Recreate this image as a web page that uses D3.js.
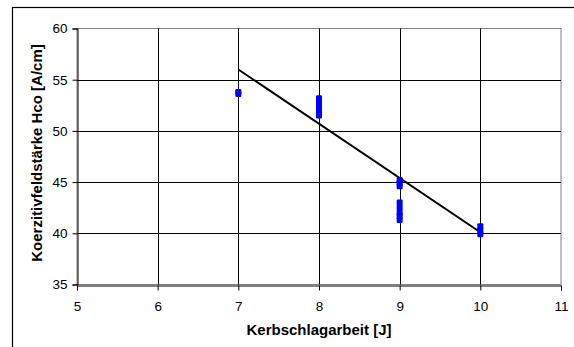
<!DOCTYPE html>
<html>
<head>
<meta charset="utf-8">
<script src="https://cdn.jsdelivr.net/npm/d3@7"></script>
<style>
  html, body { margin: 0; padding: 0; background: #fff; }
  svg { display: block; font-family: "Liberation Sans", Arial, sans-serif; }
</style>
</head>
<body>
<svg id="chart" width="574" height="347"></svg>
<script>
// Measured samples: impact energy [J] vs. coercive field strength [A/cm]
const energy = [7, 7, 8, 8, 8, 8, 8, 8, 8, 9, 9, 9, 9, 9, 9, 9, 9, 10, 10, 10];
const coercivity = [53.8, 53.6, 53.2, 52.9, 52.6, 52.3, 52.0, 51.7, 51.5,
                    45.2, 44.9, 44.6, 43.0, 42.5, 42.0, 41.7, 41.3,
                    40.7, 40.3, 39.9];
// Linear trend line end points
const trendX = [7, 10];
const trendY = [56.0, 40.1];
const xTicks = [5, 6, 7, 8, 9, 10, 11];
const yTicks = [35, 40, 45, 50, 55, 60];

const svg = d3.select("#chart");
const plotLeft = 77, plotRight = 561, plotTop = 28.5, plotBottom = 284.5;

const x = d3.scaleLinear().domain([5, 11]).range([plotLeft, plotRight]);
const y = d3.scaleLinear().domain([35, 60]).range([plotBottom, plotTop]);

// outer chart frame (continues beyond the visible area)
svg.append("rect")
  .attr("x", 12.5).attr("y", 7.5)
  .attr("width", 600).attr("height", 400)
  .attr("fill", "none").attr("stroke", "#000").attr("stroke-width", 1.2);

// plot area border
svg.append("rect")
  .attr("x", plotLeft).attr("y", plotTop)
  .attr("width", plotRight - plotLeft).attr("height", plotBottom - plotTop)
  .attr("fill", "none").attr("stroke", "#808080").attr("stroke-width", 1);

// gridlines
const grid = svg.append("g").attr("stroke", "#000").attr("stroke-width", 1);
grid.selectAll("line.h").data(yTicks.filter(t => t > 35 && t < 60)).join("line")
  .attr("x1", plotLeft).attr("x2", plotRight)
  .attr("y1", d => Math.round(y(d)) + 0.5).attr("y2", d => Math.round(y(d)) + 0.5);
grid.selectAll("line.v").data(xTicks.filter(t => t > 5 && t < 11)).join("line")
  .attr("y1", plotTop).attr("y2", plotBottom)
  .attr("x1", d => Math.round(x(d)) + 0.5).attr("x2", d => Math.round(x(d)) + 0.5);

// axes
const xAxis = svg.append("g")
  .attr("transform", `translate(0,${Math.round(plotBottom) + 0.5})`)
  .call(d3.axisBottom(x).tickValues(xTicks).tickSize(5).tickPadding(11).tickFormat(d3.format("d")));
const yAxis = svg.append("g")
  .attr("transform", `translate(${plotLeft + 0.5},0)`)
  .call(d3.axisLeft(y).tickValues(yTicks).tickSize(5).tickPadding(5).tickFormat(d3.format("d")));
[xAxis, yAxis].forEach(a => {
  a.select(".domain").attr("stroke", "#000");
  a.selectAll(".tick line").attr("stroke", "#000");
  a.selectAll(".tick text").attr("fill", "#000")
    .style("font-size", "13.5px").style("font-family", "'Liberation Sans', Arial, sans-serif");
});

// trend line
svg.append("line")
  .attr("x1", x(trendX[0])).attr("y1", y(trendY[0]))
  .attr("x2", x(trendX[1])).attr("y2", y(trendY[1]))
  .attr("stroke", "#000").attr("stroke-width", 2);

// data markers
svg.append("g").selectAll("rect").data(energy.map((e, i) => [e, coercivity[i]])).join("rect")
  .attr("x", d => x(d[0]) - 3).attr("y", d => y(d[1]) - 3)
  .attr("width", 6).attr("height", 6).attr("rx", 1.2)
  .attr("fill", "#0000ff");

// axis titles
svg.append("text")
  .attr("x", 319).attr("y", 334.5)
  .attr("text-anchor", "middle")
  .style("font-size", "15px").style("font-weight", "bold")
  .text("Kerbschlagarbeit [J]");
svg.append("text")
  .attr("transform", `translate(42,153) rotate(-90)`)
  .attr("text-anchor", "middle")
  .style("font-size", "15px").style("font-weight", "bold")
  .text("Koerzitivfeldstärke Hco [A/cm]");
</script>
</body>
</html>
